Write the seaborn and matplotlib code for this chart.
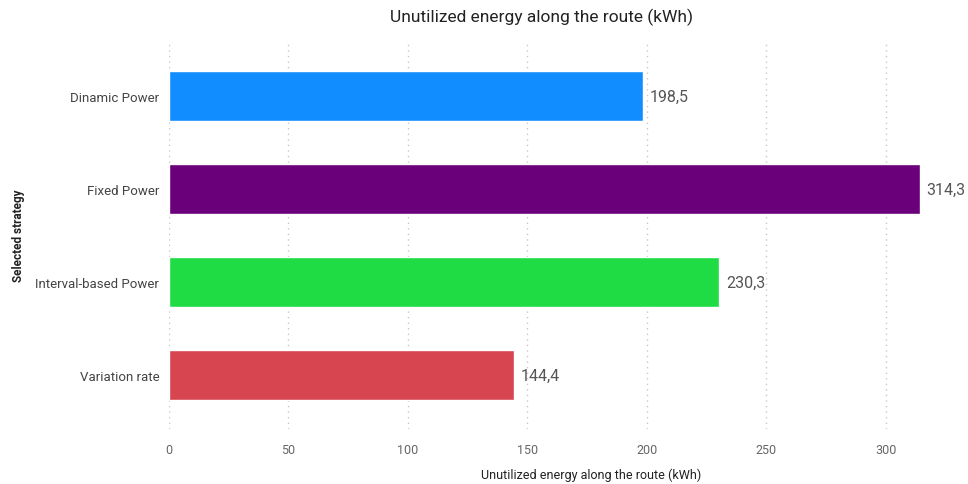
import matplotlib
matplotlib.use("Agg")
import matplotlib.pyplot as plt
import seaborn as sns
import pandas as pd

categories = ["Dinamic Power", "Fixed Power", "Interval-based Power", "Variation rate"]
values = [198.5, 314.3, 230.3, 144.4]
colors = ["#118DFF", "#6B007B", "#1FDC44", "#D64550"]
xticks = [0, 50, 100, 150, 200, 250, 300]

sns.set_theme(style="white")
plt.rcParams["font.family"] = ["Roboto", "DejaVu Sans"]

df = pd.DataFrame({"strategy": categories, "value": values})

fig = plt.figure(figsize=(9.68, 4.85), dpi=100)
ax = fig.add_axes([0.1746, 0.113, 0.781, 0.8])

sns.barplot(data=df, x="value", y="strategy", hue="strategy", palette=colors,
            orient="h", width=0.54, legend=False, ax=ax, saturation=1)

for c, v in zip(ax.containers, values):
    ax.bar_label(c, labels=[f"{v:.1f}".replace(".", ",")], padding=5,
                 fontsize=11.5, color="#555555")

ax.set_xlim(0, 316.5)
ax.set_ylim(3.58, -0.59)
ax.set_xticks(xticks)
ax.xaxis.grid(True, linestyle=(0, (1, 3)), color="#C8C8C8", linewidth=1)
ax.set_axisbelow(True)
for s in ax.spines.values():
    s.set_visible(False)
ax.tick_params(axis="x", colors="#666666", labelsize=9, length=0, pad=10)
ax.tick_params(axis="y", colors="#444444", labelsize=9.5, length=0, pad=7)

ax.set_xlabel("Unutilized energy along the route (kWh)", fontsize=9,
              color="#222222")
ax.xaxis.set_label_coords(0.558, -0.1)
ax.set_ylabel("Selected strategy", fontsize=8.5, color="#222222",
              fontweight="bold")
ax.yaxis.set_label_coords(-0.19, 0.5)
fig.text(0.559, 0.965, "Unutilized energy along the route (kWh)", ha="center",
         va="center", fontsize=12.5, color="#222222")

fig.savefig("out.png", dpi=100, facecolor="white")
